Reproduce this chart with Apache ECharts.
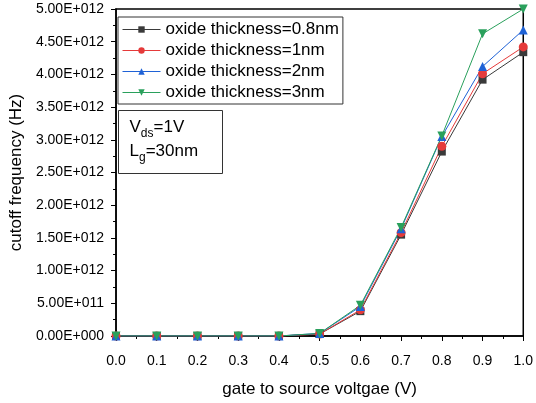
<!DOCTYPE html>
<html lang="en">
<head>
    <meta charset="UTF-8">
    <title>cutoff frequency</title>
    <script src="https://cdn.jsdelivr.net/npm/echarts@6/dist/echarts.min.js"></script>
    <style>
        html, body { margin: 0; padding: 0; background: #fff; }
        #container { width: 536px; height: 403px; }
    </style>
</head>
<body>
<div id="container"></div>
<script type="text/javascript">
    // gate to source voltage (V)
    var vgs = [0.0, 0.1, 0.2, 0.3, 0.4, 0.5, 0.6, 0.7, 0.8, 0.9, 1.0];
    // cutoff frequency (Hz)
    var tox08 = [0, 0, 0, 0, 0, 0.03e12, 0.38e12, 1.55e12, 2.82e12, 3.92e12, 4.34e12];
    var tox1  = [0, 0, 0, 0, 0, 0.03e12, 0.40e12, 1.58e12, 2.90e12, 4.01e12, 4.42e12];
    var tox2  = [0, 0, 0, 0, 0, 0.04e12, 0.45e12, 1.64e12, 3.05e12, 4.12e12, 4.68e12];
    var tox3  = [0, 0, 0, 0, 0, 0.04e12, 0.47e12, 1.66e12, 3.06e12, 4.62e12, 5.00e12];
    var seriesNames = ['oxide thickness=0.8nm', 'oxide thickness=1nm', 'oxide thickness=2nm', 'oxide thickness=3nm'];

    var FONT = '"Liberation Sans", Arial, sans-serif';

    function pairs(ys) {
        var out = [];
        for (var i = 0; i < vgs.length; i++) {
            out.push([vgs[i], ys[i]]);
        }
        return out;
    }

    // 5e12 -> "5.00E+012"
    function sciLabel(v) {
        var s = v.toExponential(2);
        var parts = s.split('e');
        var sign = parts[1].charAt(0);
        var exp = parts[1].substring(1);
        while (exp.length < 3) exp = '0' + exp;
        return parts[0] + 'E' + sign + exp;
    }

    function mkSeries(name, ys, color, symbol, rotate) {
        return {
            name: name,
            type: 'line',
            data: pairs(ys),
            symbol: symbol,
            symbolSize: symbol === 'rect' ? 8 : 9,
            symbolRotate: rotate || 0,
            lineStyle: { color: color, width: 1 },
            itemStyle: { color: color },
            emphasis: { disabled: true },
            animation: false
        };
    }

    var myChart = echarts.init(document.getElementById('container'));

    var option = {
        animation: false,
        grid: {
            left: 113, right: 8, top: 9, bottom: 65,
            show: true, borderColor: '#000', borderWidth: 1.5
        },
        legend: {
            orient: 'vertical',
            left: 118, top: 17,
            data: seriesNames,
            backgroundColor: '#fff',
            borderColor: '#333',
            borderWidth: 1,
            padding: [4, 4, 3, 4],
            itemGap: 4,
            itemWidth: 38,
            itemHeight: 8,
            lineStyle: { width: 1 },
            textStyle: { fontFamily: FONT, fontSize: 17, color: '#000' }
        },
        xAxis: {
            type: 'value',
            min: 0, max: 1, interval: 0.1,
            name: 'gate to source voltgae (V)',
            nameLocation: 'middle',
            nameGap: 45,
            nameTextStyle: { fontFamily: FONT, fontSize: 17, color: '#000' },
            axisLine: { lineStyle: { color: '#000', width: 1.5 } },
            axisTick: { show: true, length: 5, lineStyle: { color: '#000' } },
            minorTick: { show: true, splitNumber: 2, length: 3, lineStyle: { color: '#000' } },
            splitLine: { show: false },
            axisLabel: {
                fontFamily: FONT, fontSize: 14, color: '#000', margin: 18,
                formatter: function (v) { return v.toFixed(1); }
            }
        },
        yAxis: {
            type: 'value',
            min: 0, max: 5e12, interval: 0.5e12,
            name: 'cutoff frequency (Hz)',
            nameLocation: 'middle',
            nameGap: 84,
            nameTextStyle: { fontFamily: FONT, fontSize: 17, color: '#000' },
            axisLine: { show: true, lineStyle: { color: '#000', width: 1.5 } },
            axisTick: { show: true, length: 5, lineStyle: { color: '#000' } },
            minorTick: { show: true, splitNumber: 2, length: 3, lineStyle: { color: '#000' } },
            splitLine: { show: false },
            axisLabel: {
                fontFamily: FONT, fontSize: 14, color: '#000', margin: 12,
                formatter: sciLabel
            }
        },
        graphic: [{
            type: 'group',
            left: 118, top: 110,
            children: [{
                type: 'rect',
                shape: { x: 0, y: 0, width: 104, height: 63 },
                style: { fill: '#fff', stroke: '#333', lineWidth: 1 }
            }, {
                type: 'text',
                x: 11, y: 5,
                style: {
                    text: 'V{sub|ds}=1V\nL{sub|g}=30nm',
                    fontFamily: FONT, fontSize: 17, fill: '#000',
                    lineHeight: 24,
                    rich: {
                        sub: { fontFamily: FONT, fontSize: 12, verticalAlign: 'bottom', padding: [8, 0, 0, 0] }
                    }
                }
            }]
        }],
        series: [
            mkSeries(seriesNames[0], tox08, '#3a3a3a', 'rect'),
            mkSeries(seriesNames[1], tox1, '#e53a3a', 'circle'),
            mkSeries(seriesNames[2], tox2, '#1f62d6', 'triangle'),
            mkSeries(seriesNames[3], tox3, '#2aa05c', 'triangle', 180)
        ]
    };

    myChart.setOption(option);
</script>
</body>
</html>
